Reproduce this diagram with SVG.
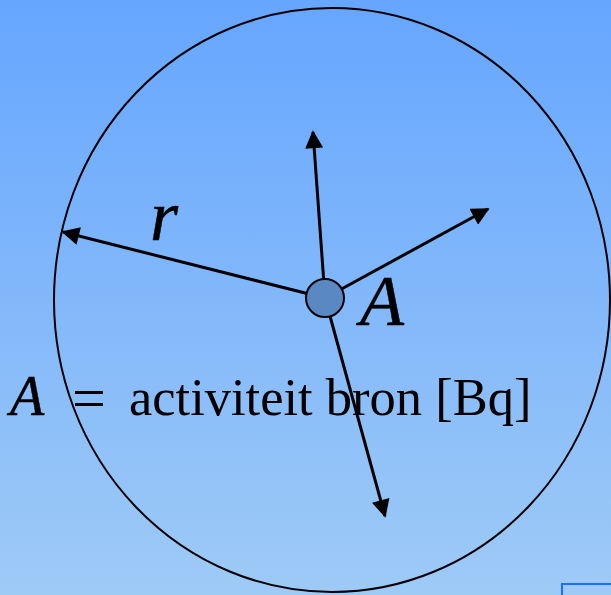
<svg xmlns="http://www.w3.org/2000/svg" width="611" height="595" viewBox="0 0 611 595">
<defs>
<linearGradient id="bg" x1="0" y1="0" x2="0" y2="1">
<stop offset="0" stop-color="#66a6ff"/>
<stop offset="1" stop-color="#9ecaf6"/>
</linearGradient>
<marker id="ah" viewBox="0 0 10 10" refX="9" refY="5" markerWidth="6.5" markerHeight="6" markerUnits="strokeWidth" orient="auto">
<path d="M0,0 L10,5 L0,10 Z" fill="#000"/>
</marker>
<style>
.arrow{stroke:#000;stroke-width:3;fill:none;marker-end:url(#ah)}
.math{font-family:"Liberation Serif","Times New Roman",serif;font-style:italic;fill:#000;stroke:#000;stroke-width:0.5}
.txt{font-family:"Liberation Serif","Times New Roman",serif;fill:#000}
</style>
</defs>
<rect width="611" height="595" fill="url(#bg)"/>
<g id="sphere">
<ellipse cx="332" cy="300" rx="278" ry="292" fill="none" stroke="#000" stroke-width="2"/>
</g>
<g id="connectors">
<line class="arrow" x1="325" y1="298" x2="313" y2="132"/>
<line class="arrow" x1="325" y1="298" x2="488" y2="209"/>
<line class="arrow" x1="325" y1="298" x2="63" y2="232"/>
<line class="arrow" x1="325" y1="298" x2="385" y2="516"/>
</g>
<g id="source">
<circle cx="325" cy="298" r="19" fill="#5a88c2" stroke="#000" stroke-width="2"/>
<text class="math" x="360" y="325" font-size="72">A</text>
</g>
<g id="radius-label">
<text class="math" x="150" y="240" font-size="72">r</text>
</g>
<g id="legend">
<text class="math" x="10" y="415" font-size="56">A</text>
<text class="txt" x="72" y="418" font-size="60">=</text>
<text class="txt" x="129" y="415" font-size="52.5">activiteit bron [Bq]</text>
</g>
<rect x="562" y="584" width="60" height="20" fill="#9ecaf6" stroke="#1f6fff" stroke-width="2"/>
</svg>
